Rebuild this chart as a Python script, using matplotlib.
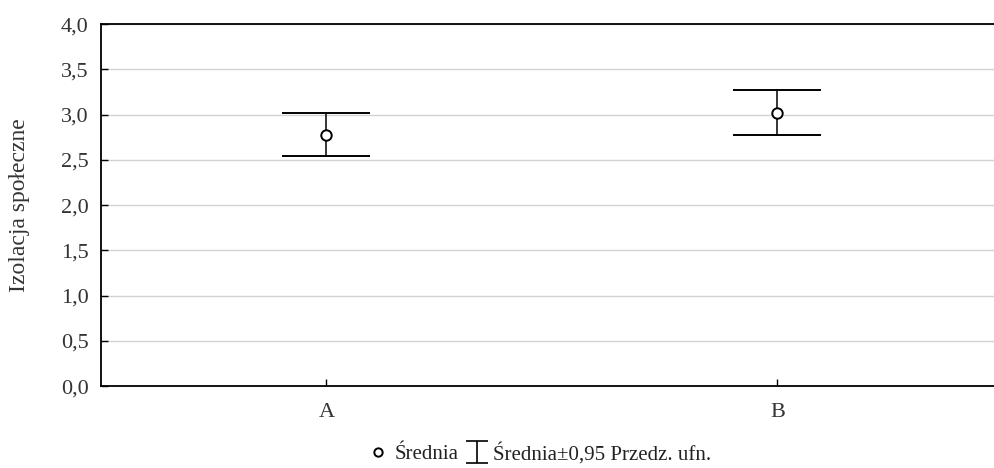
import matplotlib
matplotlib.use("Agg")
import matplotlib.pyplot as plt
from matplotlib.lines import Line2D
from matplotlib.path import Path
from matplotlib.ticker import FuncFormatter

plt.rcParams["font.family"] = ["Liberation Serif", "DejaVu Serif"]

# dane
groups = ["A", "B"]
means = [2.78, 3.02]
ci_low = [2.54, 2.78]
ci_high = [3.02, 3.27]
y_label = "Izolacja społeczne"
legend_labels = ["Średnia", "Średnia±0,95 Przedz. ufn."]

fig = plt.figure(figsize=(9.95, 4.68), dpi=100)
ax = fig.add_axes([0.1015, 0.175, 0.9065, 0.7735])

x = list(range(1, len(groups) + 1))
err_lo = [m - lo for m, lo in zip(means, ci_low)]
err_hi = [hi - m for m, hi in zip(means, ci_high)]
ax.errorbar(x, means, yerr=[err_lo, err_hi], fmt="none", ecolor="black",
            elinewidth=1.1, capsize=32, capthick=1.4, zorder=3)
ax.plot(x, means, "o", ms=7.5, mfc="white", mec="black", mew=1.4, zorder=4)

ax.set_xlim(0.5, 2.5)
ax.set_ylim(0, 4)
ax.set_xticks(x)
ax.set_xticklabels(groups)
ax.set_yticks([i * 0.5 for i in range(9)])
ax.yaxis.set_major_formatter(FuncFormatter(lambda v, p: f"{v:.1f}".replace(".", ",")))
ax.tick_params(direction="in", length=5, width=1, labelsize=16, pad=9,
               labelcolor="#333333")
ax.tick_params(axis="x", pad=12)
ax.grid(axis="y", color="#d3d3d3", linewidth=1)
ax.set_axisbelow(True)
for s in ax.spines.values():
    s.set_linewidth(1.3)
ax.set_ylabel(y_label, fontsize=17, labelpad=22, color="#333333")

# symbol "I" do legendy
i_path = Path([(-1, 1), (1, 1), (0, 1), (0, -1), (-1, -1), (1, -1)],
              [Path.MOVETO, Path.LINETO, Path.MOVETO, Path.LINETO, Path.MOVETO, Path.LINETO])
handles = [
    Line2D([], [], ls="none", marker="o", ms=6, mfc="white", mec="black", mew=1.4),
    Line2D([], [], ls="none", marker=i_path, ms=16, mfc="none", mec="black", mew=1.2),
]
fig.legend(handles, legend_labels, loc="lower center", bbox_to_anchor=(0.543, -0.032),
           ncol=2, frameon=False, fontsize=15, handlelength=0.9, handletextpad=0.35,
           columnspacing=0.4, labelcolor="#222222")

fig.savefig("out.png", dpi=100)
